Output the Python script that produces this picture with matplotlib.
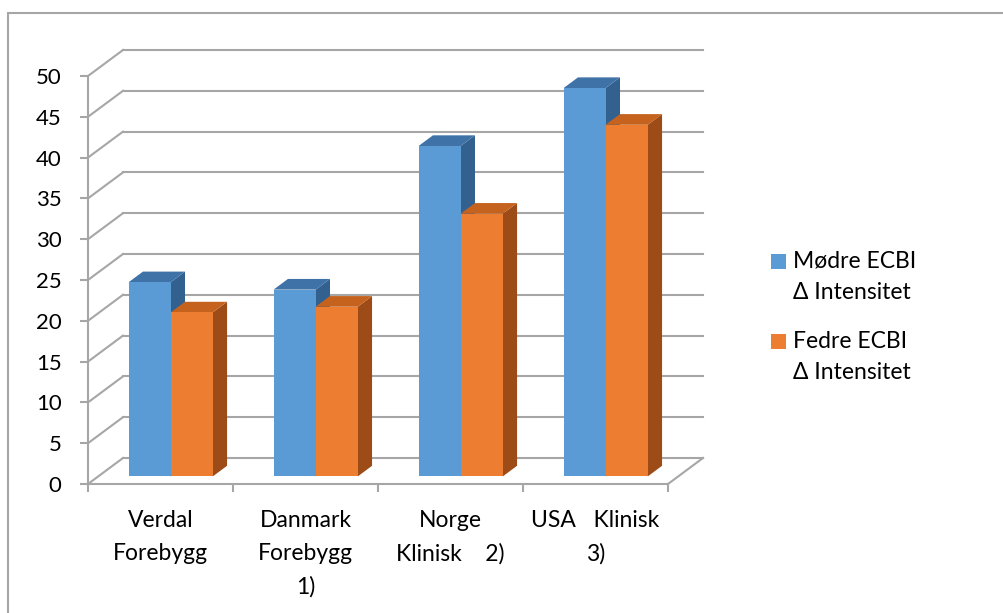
import matplotlib
matplotlib.use("Agg")
import matplotlib.pyplot as plt
from matplotlib.patches import Polygon, Rectangle
from matplotlib.lines import Line2D

plt.rcParams['font.family'] = ['Lato', 'DejaVu Sans']

# Data
categories = ["Verdal\nForebygg", "Danmark\nForebygg\n1)", "Norge\nKlinisk    2)", "USA   Klinisk\n3)"]
series_names = ["Mødre ECBI\nΔ Intensitet", "Fedre ECBI\nΔ Intensitet"]
modre = [23.8, 22.9, 40.5, 47.6]
fedre = [20.1, 20.8, 32.2, 43.1]
y_ticks = list(range(0, 55, 5))

# Styling
front_colors = ["#5B9BD5", "#ED7D31"]
top_colors = ["#3F72A6", "#C5631E"]
side_colors = ["#33618F", "#9D4C17"]
grid_color = "#A6A6A6"
text_size = 16.5
tick_size = 16

W, H, DPI = 1004, 613, 100
fig = plt.figure(figsize=(W / DPI, H / DPI), dpi=DPI)
ax = fig.add_axes([0, 0, 1, 1])

# pixel geometry of the plot: 145 px per category, 8.16 px per value unit
px_cat, px_val = 145.0, 8.16
x0_px, y0_px = 88.0, 484.0
ax.set_xlim(-x0_px / px_cat, (W - x0_px) / px_cat)
ax.set_ylim(-(H - y0_px) / px_val, y0_px / px_val)

# oblique depth vector (full depth of the floor) in data units
DX, DY = 35.0 / px_cat, 26.0 / px_val


def proj(x, v, z):
    return (x + z * DX, v + z * DY)


ncat = len(categories)

# back wall and side wall gridlines
for v in y_ticks:
    bx0, by = proj(0, v, 1)
    bx1, _ = proj(ncat, v, 1)
    ax.add_line(Line2D([bx0, bx1], [by, by], color=grid_color, lw=1.5, zorder=1))
    fx, fy = proj(0, v, 0)
    ax.add_line(Line2D([fx, bx0], [fy, by], color=grid_color, lw=1.5, zorder=1))
# right edge of the floor
fx, fy = proj(ncat, 0, 0)
bx, by = proj(ncat, 0, 1)
ax.add_line(Line2D([fx, bx], [fy, by], color=grid_color, lw=1.5, zorder=1))

# 3D columns
bar_w = 0.29
z_front, z_back = 0.29, 0.70
for i in range(ncat):
    c = i + 0.5
    for j, vals in enumerate([modre, fedre]):
        v = vals[i]
        xa = c - bar_w + j * bar_w
        xb = xa + bar_w
        front = [proj(xa, 0, z_front), proj(xb, 0, z_front), proj(xb, v, z_front), proj(xa, v, z_front)]
        top = [proj(xa, v, z_front), proj(xb, v, z_front), proj(xb, v, z_back), proj(xa, v, z_back)]
        side = [proj(xb, 0, z_front), proj(xb, v, z_front), proj(xb, v, z_back), proj(xb, 0, z_back)]
        zo = 3 + i * 2 + j
        ax.add_patch(Polygon(side, closed=True, facecolor=side_colors[j], edgecolor='none', zorder=zo))
        ax.add_patch(Polygon(top, closed=True, facecolor=top_colors[j], edgecolor='none', zorder=zo))
        ax.add_patch(Polygon(front, closed=True, facecolor=front_colors[j], edgecolor='none', zorder=zo))

# front axes
for s in ['top', 'right']:
    ax.spines[s].set_visible(False)
ax.spines['left'].set_position(('data', 0))
ax.spines['left'].set_bounds(0, 50)
ax.spines['bottom'].set_position(('data', 0))
ax.spines['bottom'].set_bounds(0, ncat)
for s in ['left', 'bottom']:
    ax.spines[s].set_color(grid_color)
    ax.spines[s].set_linewidth(1.5)
    ax.spines[s].set_zorder(20)

ax.set_yticks(y_ticks)
ax.set_yticklabels([str(t) for t in y_ticks], fontsize=tick_size)
ax.tick_params(axis='y', direction='out', length=6, width=1.5, color=grid_color, pad=13)

ax.set_xticks(range(ncat + 1))
ax.set_xticklabels([""] * (ncat + 1))
ax.tick_params(axis='x', which='major', direction='out', length=6, width=1.5, color=grid_color)
ax.set_xticks([i + 0.5 for i in range(ncat)], minor=True)
ax.set_xticklabels(categories, minor=True, fontsize=text_size, linespacing=1.72)
ax.tick_params(axis='x', which='minor', length=0, pad=18.5)

# legend
for k, name in enumerate(series_names):
    sq_top = 254 + k * 80
    line1, line2 = name.split("\n")
    fig.patches.append(Rectangle((771 / W, 1 - (sq_top + 15) / H), 15 / W, 15 / H,
                                 transform=fig.transFigure, facecolor=front_colors[k],
                                 edgecolor='none', figure=fig))
    fig.text(793 / W, 1 - (sq_top + 7.5) / H, line1, fontsize=text_size,
             va='center', ha='left')
    fig.text(793 / W, 1 - (sq_top + 38.5) / H, line2, fontsize=text_size,
             va='center', ha='left')

# chart area border
fig.patches.append(Rectangle((8 / W, -0.1), 1.2, 1.1 - 13 / H, transform=fig.transFigure,
                             facecolor='none', edgecolor=grid_color, lw=1.5, figure=fig))

fig.savefig("out.png", dpi=DPI, facecolor='white')
